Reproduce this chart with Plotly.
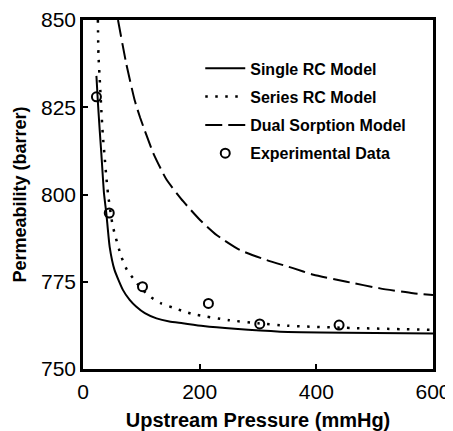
import plotly.graph_objects as go

# Data
single_x = [23, 25.7, 28.6, 31.4, 36, 40, 45.7, 54, 68.6, 80, 91, 106, 126, 148, 171, 206, 260, 338, 450, 600]
single_y = [834, 826, 818.5, 811.8, 800.3, 794.6, 785, 778.4, 772.6, 769.8, 767.9, 766, 764.5, 763.6, 763.1, 762.3, 761.5, 760.7, 760.4, 760.2]

series_x = [25.5, 26.5, 29, 31.5, 34, 37, 40, 43, 51, 65, 75, 86, 100, 117, 134, 154, 171, 189, 250, 300, 350, 450, 600]
series_y = [850, 840, 832, 824, 817, 811, 805, 800, 791, 782.5, 778.5, 776, 773, 770.5, 768.8, 767.6, 766.6, 765.7, 764, 763.1, 762.4, 761.8, 761.2]

dual_x = [60, 74, 88.6, 98, 120.6, 143.4, 172, 200.6, 229, 269, 315, 360, 395, 452, 509, 566, 600]
dual_y = [850, 837.6, 827, 822, 811.8, 804.2, 798, 792.7, 788.4, 784.1, 781.2, 778.9, 777, 775, 773.1, 771.7, 771.2]

exp_x = [23, 45, 102, 215, 303, 439]
exp_y = [828, 794.7, 773.6, 768.8, 762.9, 762.6]

x_ticks = [0, 200, 400, 600]
y_ticks = [750, 775, 800, 825, 850]

FONT = "Liberation Sans, Arial, sans-serif"

fig = go.Figure()
fig.add_trace(go.Scatter(x=single_x, y=single_y, mode="lines", name="Single RC Model",
                         legendgroup="a",
                         line=dict(color="black", width=2, shape="spline", smoothing=0.5)))
fig.add_trace(go.Scatter(x=series_x, y=series_y, mode="lines", name="Series RC Model",
                         legendgroup="b",
                         line=dict(color="black", width=2.5, dash="2.5px,7.5px", shape="spline", smoothing=0.5)))
fig.add_trace(go.Scatter(x=dual_x, y=dual_y, mode="lines", name="Dual Sorption Model",
                         legendgroup="c",
                         line=dict(color="black", width=2, dash="17px,6px", shape="spline", smoothing=0.5)))
fig.add_trace(go.Scatter(x=exp_x, y=exp_y, mode="markers", name="Experimental Data",
                         legendgroup="d",
                         marker=dict(symbol="circle-open", size=9, color="black",
                                     line=dict(color="black", width=2))))

axis_common = dict(showline=True, linecolor="black", linewidth=2.5, mirror=True,
                   ticks="inside", ticklen=5, tickwidth=2, tickcolor="black",
                   showgrid=False, zeroline=False, automargin=False,
                   tickfont=dict(family=FONT, size=21, color="black"))

fig.update_xaxes(range=[0, 600], tickvals=x_ticks, ticklabelstandoff=2,
                 title=dict(text="<b>Upstream Pressure (mmHg)</b>",
                            font=dict(family=FONT, size=20, color="black"), standoff=23),
                 **axis_common)
fig.update_yaxes(range=[750, 850], tickvals=y_ticks, ticklabelstandoff=0,
                 title=dict(text="<b>Permeability (barrer)</b>",
                            font=dict(family=FONT, size=18, color="black"), standoff=10),
                 **axis_common)

# The page body adds an 8px margin, so the figure is 8px smaller than the window
fig.update_layout(
    width=445, height=423,
    margin=dict(l=75, r=20, t=12, b=62),
    paper_bgcolor="white", plot_bgcolor="white",
    showlegend=True,
    legend=dict(x=0.335, y=0.91, xanchor="left", yanchor="top",
                bgcolor="rgba(0,0,0,0)", borderwidth=0,
                tracegroupgap=4.5,
                font=dict(family=FONT, size=16, color="black"),
                itemwidth=40),
)
for tr in fig.data:
    tr.name = "<b>" + tr.name + "</b>"

fig.write_html("out.html")
